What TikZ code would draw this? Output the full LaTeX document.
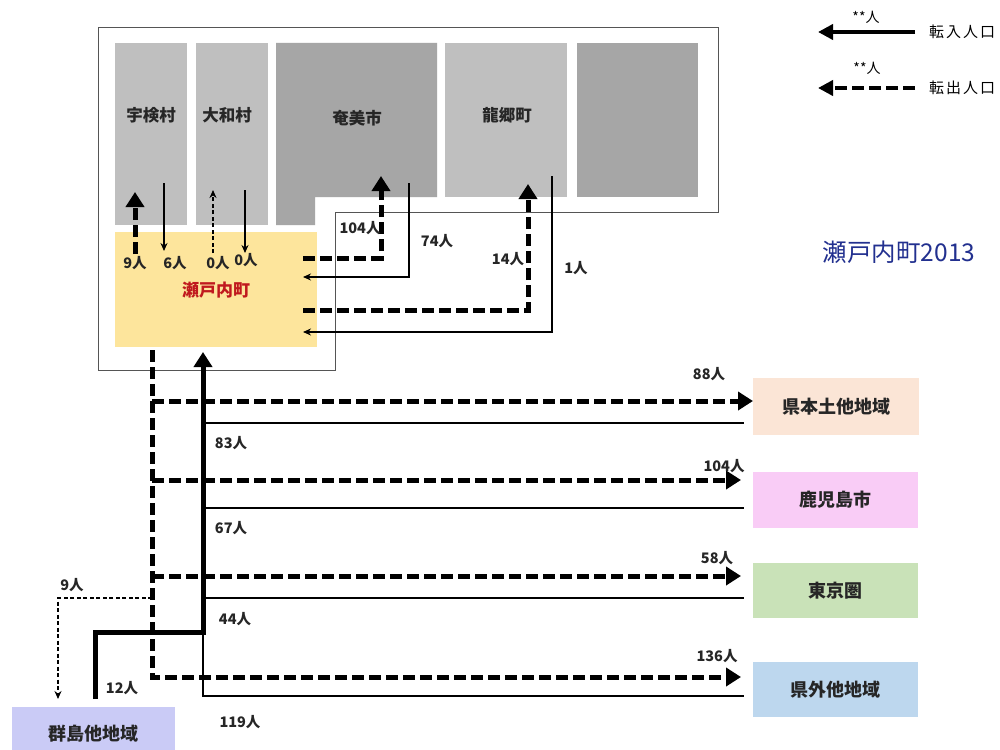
\documentclass[tikz,border=0pt]{standalone}
\usepackage{fontspec}
\setmainfont{Noto Sans CJK JP}
\usetikzlibrary{arrows.meta}
\definecolor{graylight}{HTML}{BFBFBF}
\definecolor{graydark}{HTML}{A6A6A6}
\definecolor{setoyellow}{HTML}{FDE59C}
\definecolor{peach}{HTML}{FBE5D6}
\definecolor{pinkbox}{HTML}{F9CCF6}
\definecolor{greenbox}{HTML}{C9E2B8}
\definecolor{bluebox}{HTML}{BDD7EE}
\definecolor{lavbox}{HTML}{CACBF6}
\definecolor{framegray}{HTML}{555555}
\definecolor{titleblue}{HTML}{22308F}
\definecolor{labelred}{HTML}{C0191E}
\tikzset{
  area/.style={fill=graylight, draw=none, inner sep=0pt},
  dest/.style={draw=none, inner sep=0pt, minimum width=165pt, minimum height=56pt, font=\fontsize{18}{18}\selectfont\bfseries, text=black!85},
  lbl/.style={font=\fontsize{14.5}{14.5}\selectfont\bfseries, inner sep=1pt, text=black!85},
  rlbl/.style={font=\fontsize{16.5}{16.5}\selectfont\bfseries, inner sep=0pt, text=black!85},
  thickdash/.style={line width=5pt, dash pattern=on 12pt off 5pt},
  thicksolid/.style={line width=5pt},
  thinline/.style={line width=1.3pt},
  thindash/.style={line width=1.3pt, dash pattern=on 4pt off 2.5pt},
  bigtip/.style={-{Triangle[length=15pt,width=18pt]}},
  smalltip/.style={-{Stealth[length=8pt,width=7pt]}},
}
\begin{document}
\begin{tikzpicture}[x=1pt,y=-1pt]
\useasboundingbox (0,0) rectangle (1000,749);
\fill[white] (0,0) rectangle (1000,749);

% frame
\draw[framegray, line width=1pt] (98,28) -- (718,28) -- (718,212) -- (335,212) -- (335,370) -- (98,370) -- cycle;

% gray region boxes
\node[area, minimum width=72pt, minimum height=182pt] (uken) at (151,134) {};
\node[area, minimum width=72pt, minimum height=182pt] (yamato) at (232,134) {};
\fill[graydark] (276,43) -- (437,43) -- (437,197) -- (315,197) -- (315,225) -- (276,225) -- cycle;
\node[area, minimum width=122pt, minimum height=154pt] (tatsugo) at (506,120) {};
\node[area, fill=graydark, minimum width=121pt, minimum height=154pt] (fifth) at (637.5,120) {};
\node[rlbl] (ukenl) at (151,115) {宇検村};
\node[rlbl] (yamatol) at (227,115) {大和村};
\node[rlbl] (amamil) at (357,118) {奄美市};
\node[rlbl] (tatsugol) at (507,115) {龍郷町};

% Setouchi
\node[fill=setoyellow, inner sep=0pt, minimum width=202pt, minimum height=115pt] (seto) at (216,289.5) {};
\node[font=\fontsize{17}{17}\selectfont\bfseries, text=labelred] (setol) at (216,290) {瀬戸内町};

% Uken / Yamato flows
\coordinate (a1s) at (135,254); \coordinate (a1e) at (135,192);
\draw[thickdash, bigtip] (a1s) -- (a1e);
\coordinate (a2s) at (164,183); \coordinate (a2e) at (164,251);
\draw[thinline, smalltip] (a2s) -- (a2e);
\coordinate (a3s) at (213,253); \coordinate (a3e) at (213,190);
\draw[thindash, smalltip] (a3s) -- (a3e);
\coordinate (a4s) at (245,190); \coordinate (a4e) at (245,253);
\draw[thinline, smalltip] (a4s) -- (a4e);
\node[lbl] (l9) at (135,263) {9人};
\node[lbl] (l6) at (175,263) {6人};
\node[lbl] (l0a) at (218,263) {0人};
\node[lbl] (l0b) at (246,260) {0人};

% Amami flows
\coordinate (b1s) at (303,258); \coordinate (b1e) at (381,176);
\draw[thickdash, bigtip] (b1s) -| (b1e);
\coordinate (b2s) at (409,183); \coordinate (b2e) at (303,277);
\draw[thinline, smalltip] (b2s) |- (b2e);
\node[lbl] (l104a) at (360,228) {104人};
\node[lbl] (l74) at (437,241) {74人};

% Tatsugo flows
\coordinate (c1s) at (303,310); \coordinate (c1e) at (528,184);
\draw[thickdash, bigtip] (c1s) -| (c1e);
\coordinate (c2s) at (552,176); \coordinate (c2e) at (303,332);
\draw[thinline, smalltip] (c2s) |- (c2e);
\node[lbl] (l14) at (508,259) {14人};
\node[lbl] (l1) at (576,268) {1人};

% destination boxes
\node[dest, fill=peach, minimum width=166pt, minimum height=57pt] (ken) at (836,406.5) {県本土他地域};
\node[dest, fill=pinkbox] (kago) at (835.5,500) {鹿児島市};
\node[dest, fill=greenbox, minimum height=55pt] (tokyo) at (835.5,590.5) {東京圏};
\node[dest, fill=bluebox, minimum height=55pt] (kengai) at (835.5,689.5) {県外他地域};
\node[dest, fill=lavbox, minimum width=163pt, minimum height=54pt] (gunto) at (93.5,734) {群島他地域};

% outflow (dashed) trunk
\coordinate (o0) at (152,350);
\coordinate (o1) at (152,401); \coordinate (o1e) at (753,401);
\coordinate (o2) at (152,480); \coordinate (o2e) at (741,480);
\coordinate (o3) at (152,576); \coordinate (o3e) at (741,576);
\coordinate (o4e) at (741,677);
\draw[thickdash, bigtip] (o0) |- (o4e);
\draw[thickdash, bigtip] (o1) -- (o1e);
\draw[thickdash, bigtip] (o2) -- (o2e);
\draw[thickdash, bigtip] (o3) -- (o3e);

% inflow thin lines
\coordinate (i1) at (203,423); \coordinate (i1e) at (744,423);
\coordinate (i2) at (203,508); \coordinate (i2e) at (744,508);
\coordinate (i3) at (203,598); \coordinate (i3e) at (744,598);
\coordinate (i4) at (203,632); \coordinate (i4e) at (744,696);
\draw[thinline] (i1) -- (i1e);
\draw[thinline] (i2) -- (i2e);
\draw[thinline] (i3) -- (i3e);
\draw[thinline] (i4) |- (i4e);

% inflow thick trunk from gunto
\coordinate (g1) at (95,699); \coordinate (gtop) at (203,352);
\draw[thicksolid, bigtip] (g1) |- (i4) -- (gtop);

% outflow to gunto
\coordinate (g2) at (152,598); \coordinate (g2e) at (58,699);
\draw[thindash, smalltip] (g2) -| (g2e);

% labels
\node[lbl] (l88) at (709,374) {88人};
\node[lbl] (l104b) at (724,466) {104人};
\node[lbl] (l58) at (717,558) {58人};
\node[lbl] (l136) at (717,656) {136人};
\node[lbl] (l83) at (231,443) {83人};
\node[lbl] (l67) at (231,528) {67人};
\node[lbl] (l44) at (235,619) {44人};
\node[lbl] (l119) at (240,722) {119人};
\node[lbl] (l12) at (122,688) {12人};
\node[lbl] (l9b) at (72,585) {9人};

% legend
\coordinate (lg1s) at (915,32); \coordinate (lg1e) at (818,32);
\draw[line width=4.5pt, -{Triangle[length=15pt,width=15pt]}] (lg1s) -- (lg1e);
\coordinate (lg2s) at (915,88); \coordinate (lg2e) at (818,88);
\draw[line width=4.5pt, dash pattern=on 12pt off 5pt, -{Triangle[length=15pt,width=15pt]}] (lg2s) -- (lg2e);
\node[font=\fontsize{14}{14}\selectfont, inner sep=0pt] (lgn1) at (866,17) {**人};
\node[font=\fontsize{14}{14}\selectfont, inner sep=0pt] (lgn2) at (867,68) {**人};
\node[font=\fontsize{15}{15}\selectfont, inner sep=0pt] (lgt1) at (962,32) {転\hspace{2pt}入\hspace{2pt}人\hspace{2pt}口};
\node[font=\fontsize{15}{15}\selectfont, inner sep=0pt] (lgt2) at (962,88) {転\hspace{2pt}出\hspace{2pt}人\hspace{2pt}口};

% title
\node[font=\fontsize{24.5}{24.5}\selectfont, text=titleblue, inner sep=0pt] (title) at (899,252) {瀬戸内町2013};
\end{tikzpicture}
\end{document}
